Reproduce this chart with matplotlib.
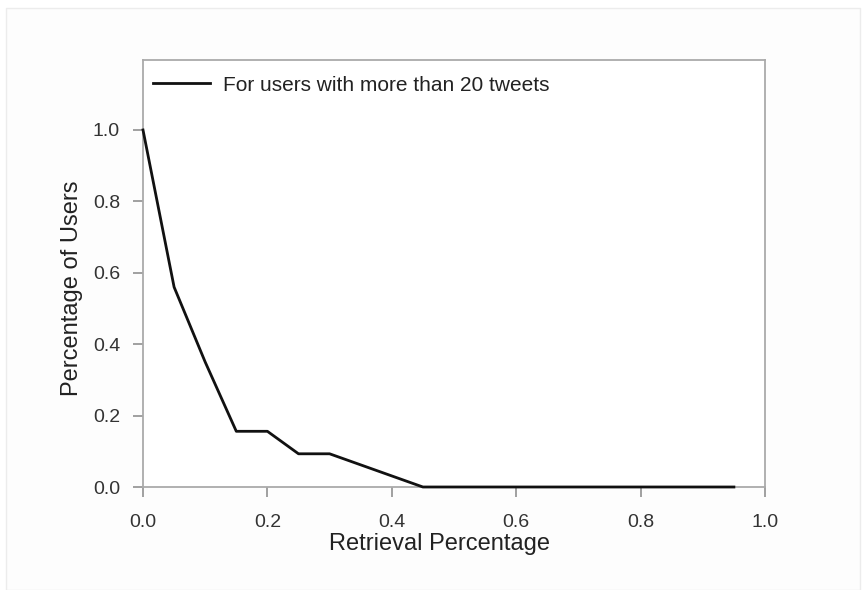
import matplotlib
matplotlib.use("Agg")
import matplotlib.pyplot as plt
from matplotlib.patches import Rectangle

retrieval = [0.0, 0.05, 0.10, 0.15, 0.20, 0.25, 0.30, 0.35, 0.40, 0.45,
             0.50, 0.55, 0.60, 0.65, 0.70, 0.75, 0.80, 0.85, 0.90, 0.95]
users = [1.0, 0.56, 0.35, 0.156, 0.156, 0.093, 0.093, 0.062, 0.031, 0.0,
         0.0, 0.0, 0.0, 0.0, 0.0, 0.0, 0.0, 0.0, 0.0, 0.0]
xticks = [0.0, 0.2, 0.4, 0.6, 0.8, 1.0]
yticks = [0.0, 0.2, 0.4, 0.6, 0.8, 1.0]
series_label = "For users with more than 20 tweets"

plt.rcParams['font.family'] = ['Liberation Sans', 'DejaVu Sans']

fig = plt.figure(figsize=(8.65, 5.9), dpi=100)
fig.patch.set_facecolor('white')
fig.patches.append(Rectangle((6/865, 0), 854/865, 1-8/590, transform=fig.transFigure,
                             facecolor='#fdfdfd', edgecolor='#ececec', lw=1, zorder=-5))

ax = fig.add_axes([143/865, 1-487/590, 622/865, 427/590])
ax.set_zorder(2)
ax.set_facecolor('white')
ax.plot(retrieval, users, color='#111111', lw=2, label=series_label, zorder=3, clip_on=False)
ax.set_xlim(0, 1.0)
ax.set_ylim(0, 1.196)
ax.set_xticks(xticks)
ax.set_yticks(yticks)
ax.set_xticklabels([f"{v:.1f}" for v in xticks])
ax.set_yticklabels([f"{v:.1f}" for v in yticks])
for s in ax.spines.values():
    s.set_color('#aaaaaa')
    s.set_linewidth(1.3)
ax.tick_params(direction='out', length=7.5, width=1.3, color='#999999',
               labelsize=14, labelcolor='#333333')
ax.tick_params(axis='x', pad=12)
ax.tick_params(axis='y', pad=9)
ax.set_xlabel("Retrieval Percentage", fontsize=17, color='#222222', labelpad=1.5)
ax.set_ylabel("Percentage of Users", fontsize=17, color='#222222', labelpad=7)
ax.xaxis.label.set_x(0.476)
ax.yaxis.label.set_y(0.466)
leg = ax.legend(loc='upper left', frameon=False, fontsize=15, handlelength=2.75,
                handletextpad=0.62, borderaxespad=0, bbox_to_anchor=(0.003, 0.983),
                labelcolor='#222222')
fig.savefig("out.png", dpi=100, facecolor=fig.get_facecolor())
